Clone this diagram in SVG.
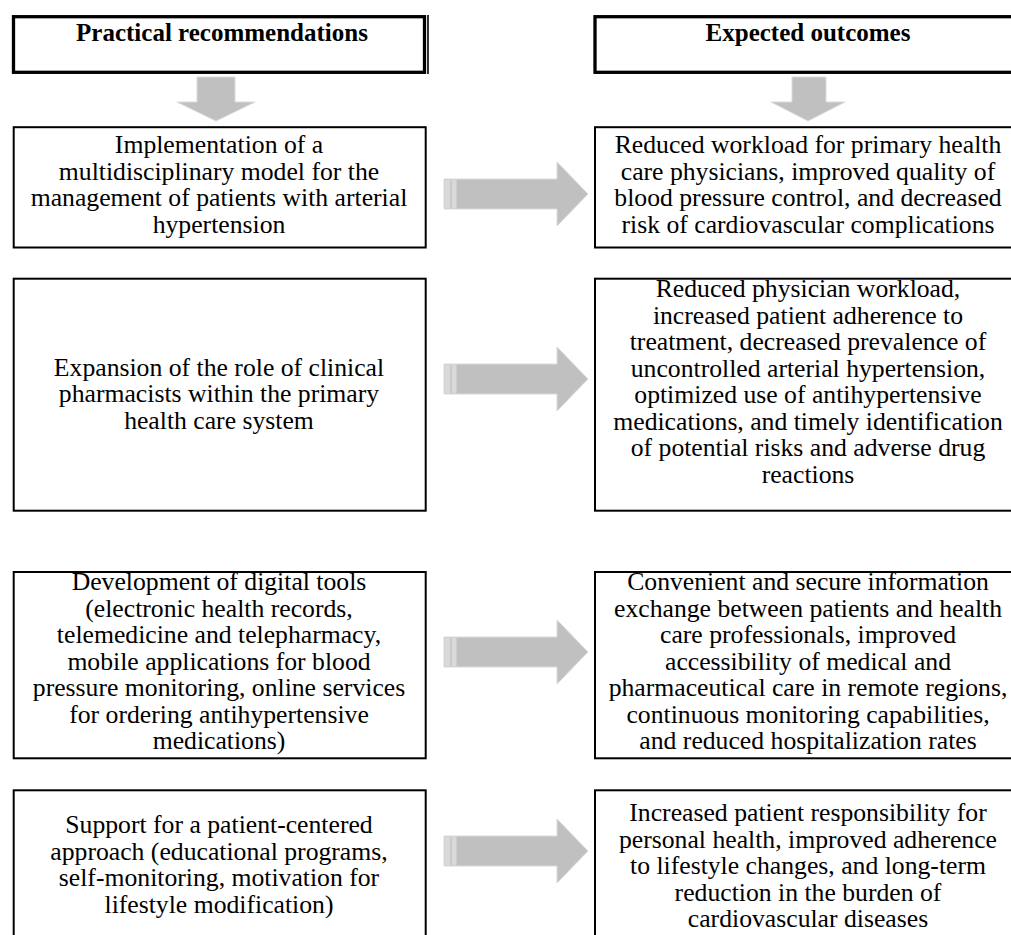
<svg xmlns="http://www.w3.org/2000/svg" width="1011" height="935" viewBox="0 0 1011 935">
<style>
.hdr{fill:#fff;stroke:#000;stroke-width:3.3}
.box{fill:#fff;stroke:#000;stroke-width:2}
.t{font-family:"Liberation Serif","Times New Roman",serif;font-size:25.7px;fill:#000;text-anchor:middle}
.b{font-weight:bold;font-size:25px}
.arr{fill:#c0c0c0;stroke:#dadada;stroke-width:1}
.strip{fill:#d9d9d9}
</style>
<defs>
<g id="rarrow">
<path class="arr" d="M0,-15 L113,-15 L113,-32 L144,0 L113,32 L113,15 L0,15 Z"/>
<rect class="strip" x="0.5" y="-14.5" width="12" height="29"/>
<line x1="7" y1="-14" x2="7" y2="14" stroke="#c4c4c4" stroke-width="1.5"/>
</g>
</defs>
<g id="header-left">
<rect class="hdr" x="13.5" y="16.7" width="411" height="55.6"/>
<line x1="428" y1="15" x2="428" y2="74" stroke="#000" stroke-width="1.6"/>
<text class="t b" x="222" y="41">Practical recommendations</text>
</g>
<g id="header-right">
<rect class="hdr" x="595" y="16.7" width="430" height="55.6"/>
<text class="t b" x="808" y="41">Expected outcomes</text>
</g>
<g id="connectors">
<path class="arr" d="M197,77 L235,77 L235,102 L255,102 L216,121 L177,102 L197,102 Z"/>
<path class="arr" d="M792,77 L826,77 L826,102 L845,102 L808,121 L771,102 L792,102 Z"/>
<use href="#rarrow" x="444" y="194"/>
<use href="#rarrow" x="444" y="379"/>
<use href="#rarrow" x="444" y="652"/>
<use href="#rarrow" x="444" y="851"/>
</g>
<g id="rec1">
<rect class="box" x="13.7" y="127.2" width="412" height="120.3"/>
<text class="t"><tspan x="219" y="153">Implementation of a</tspan><tspan x="219" y="179.5">multidisciplinary model for the</tspan><tspan x="219" y="206">management of patients with arterial</tspan><tspan x="219" y="232.5">hypertension</tspan></text>
</g>
<g id="out1">
<rect class="box" x="595" y="127.2" width="430" height="120.3"/>
<text class="t"><tspan x="808" y="153">Reduced workload for primary health</tspan><tspan x="808" y="179.5">care physicians, improved quality of</tspan><tspan x="808" y="206">blood pressure control, and decreased</tspan><tspan x="808" y="232.5">risk of cardiovascular complications</tspan></text>
</g>
<g id="rec2">
<rect class="box" x="13.7" y="278.7" width="412" height="232"/>
<text class="t"><tspan x="219" y="375.5">Expansion of the role of clinical</tspan><tspan x="219" y="402">pharmacists within the primary</tspan><tspan x="219" y="428.5">health care system</tspan></text>
</g>
<g id="out2">
<rect class="box" x="595" y="278.7" width="430" height="232"/>
<text class="t"><tspan x="808" y="297">Reduced physician workload,</tspan><tspan x="808" y="323.5">increased patient adherence to</tspan><tspan x="808" y="350">treatment, decreased prevalence of</tspan><tspan x="808" y="376.5">uncontrolled arterial hypertension,</tspan><tspan x="808" y="403">optimized use of antihypertensive</tspan><tspan x="808" y="429.5">medications, and timely identification</tspan><tspan x="808" y="456">of potential risks and adverse drug</tspan><tspan x="808" y="482.5">reactions</tspan></text>
</g>
<g id="rec3">
<rect class="box" x="13.7" y="572" width="412" height="186.3"/>
<text class="t"><tspan x="219" y="590">Development of digital tools</tspan><tspan x="219" y="616.5">(electronic health records,</tspan><tspan x="219" y="643">telemedicine and telepharmacy,</tspan><tspan x="219" y="669.5">mobile applications for blood</tspan><tspan x="219" y="696">pressure monitoring, online services</tspan><tspan x="219" y="722.5">for ordering antihypertensive</tspan><tspan x="219" y="749">medications)</tspan></text>
</g>
<g id="out3">
<rect class="box" x="595" y="572" width="430" height="186.3"/>
<text class="t"><tspan x="808" y="590">Convenient and secure information</tspan><tspan x="808" y="616.5">exchange between patients and health</tspan><tspan x="808" y="643">care professionals, improved</tspan><tspan x="808" y="669.5">accessibility of medical and</tspan><tspan x="808" y="696">pharmaceutical care in remote regions,</tspan><tspan x="808" y="722.5">continuous monitoring capabilities,</tspan><tspan x="808" y="749">and reduced hospitalization rates</tspan></text>
</g>
<g id="rec4">
<rect class="box" x="13.7" y="790.3" width="412" height="160"/>
<text class="t"><tspan x="219" y="833">Support for a patient-centered</tspan><tspan x="219" y="859.5">approach (educational programs,</tspan><tspan x="219" y="886">self-monitoring, motivation for</tspan><tspan x="219" y="912.5">lifestyle modification)</tspan></text>
</g>
<g id="out4">
<rect class="box" x="595" y="790.3" width="430" height="160"/>
<text class="t"><tspan x="808" y="821">Increased patient responsibility for</tspan><tspan x="808" y="847.5">personal health, improved adherence</tspan><tspan x="808" y="874">to lifestyle changes, and long-term</tspan><tspan x="808" y="900.5">reduction in the burden of</tspan><tspan x="808" y="927">cardiovascular diseases</tspan></text>
</g>
</svg>
